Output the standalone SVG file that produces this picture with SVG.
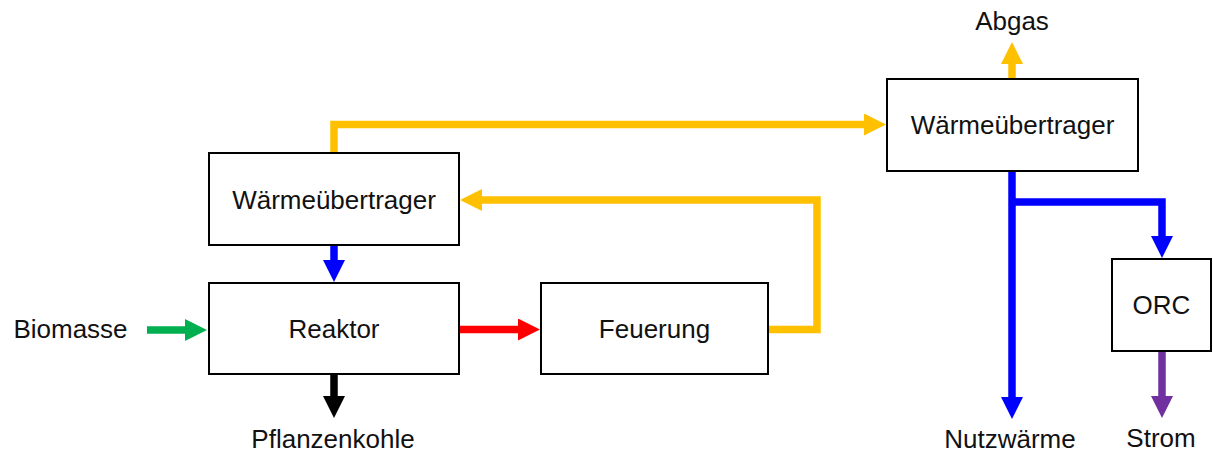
<svg xmlns="http://www.w3.org/2000/svg" width="1213" height="452" viewBox="0 0 1213 452">
  <style>
    .box { fill: #ffffff; stroke: #000000; stroke-width: 2; }
    .lbl { font-family: "Liberation Sans", Arial, sans-serif; font-size: 26px; fill: #111111; text-anchor: middle; }
    .flow { fill: none; stroke-width: 7.5; stroke-linejoin: miter; stroke-linecap: butt; }
    .yellow { stroke: #FFC000; }
    .blue { stroke: #0000FF; }
    .red { stroke: #FF0000; }
    .green { stroke: #00B050; }
    .black { stroke: #000000; }
    .purple { stroke: #7030A0; }
  </style>
  <defs>
    <marker id="head-yellow" viewBox="0 0 22 22" refX="1" refY="11" markerWidth="22" markerHeight="22" markerUnits="userSpaceOnUse" orient="auto">
      <path d="M0,0 L22,11 L0,22 Z" fill="#FFC000"/>
    </marker>
    <marker id="head-blue" viewBox="0 0 22 22" refX="1" refY="11" markerWidth="22" markerHeight="22" markerUnits="userSpaceOnUse" orient="auto">
      <path d="M0,0 L22,11 L0,22 Z" fill="#0000FF"/>
    </marker>
    <marker id="head-red" viewBox="0 0 22 22" refX="1" refY="11" markerWidth="22" markerHeight="22" markerUnits="userSpaceOnUse" orient="auto">
      <path d="M0,0 L22,11 L0,22 Z" fill="#FF0000"/>
    </marker>
    <marker id="head-green" viewBox="0 0 22 22" refX="1" refY="11" markerWidth="22" markerHeight="22" markerUnits="userSpaceOnUse" orient="auto">
      <path d="M0,0 L22,11 L0,22 Z" fill="#00B050"/>
    </marker>
    <marker id="head-black" viewBox="0 0 22 22" refX="1" refY="11" markerWidth="22" markerHeight="22" markerUnits="userSpaceOnUse" orient="auto">
      <path d="M0,0 L22,11 L0,22 Z" fill="#000000"/>
    </marker>
    <marker id="head-purple" viewBox="0 0 22 22" refX="1" refY="11" markerWidth="22" markerHeight="22" markerUnits="userSpaceOnUse" orient="auto">
      <path d="M0,0 L22,11 L0,22 Z" fill="#7030A0"/>
    </marker>
  </defs>

  <!-- connectors -->
  <g id="connectors">
    <!-- hot gas from the left heat exchanger to the right one -->
    <path class="flow yellow" d="M334,153 V124.5 H865" marker-end="url(#head-yellow)"/>
    <!-- flue gas from the furnace back to the left heat exchanger -->
    <path class="flow yellow" d="M768,329.5 H817 V200 H481" marker-end="url(#head-yellow)"/>
    <!-- heat into the reactor -->
    <path class="flow blue" d="M334,245 V261" marker-end="url(#head-blue)"/>
    <!-- pyrolysis gas to the furnace -->
    <path class="flow red" d="M459,329.5 H519" marker-end="url(#head-red)"/>
    <!-- biomass feed -->
    <path class="flow green" d="M147,330 H186" marker-end="url(#head-green)"/>
    <!-- biochar output -->
    <path class="flow black" d="M334,374 V397" marker-end="url(#head-black)"/>
    <!-- exhaust -->
    <path class="flow yellow" d="M1012,79 V63" marker-end="url(#head-yellow)"/>
    <!-- useful heat -->
    <path class="flow blue" d="M1012,171 V398" marker-end="url(#head-blue)"/>
    <!-- heat to the ORC -->
    <path class="flow blue" d="M1012,202 H1162 V237" marker-end="url(#head-blue)"/>
    <!-- electricity -->
    <path class="flow purple" d="M1162,351 V397" marker-end="url(#head-purple)"/>
  </g>

  <!-- nodes -->
  <g id="waermeuebertrager-links">
    <rect class="box" x="209" y="153" width="250" height="92"/>
    <text class="lbl" x="334" y="208.5">Wärmeübertrager</text>
  </g>
  <g id="reaktor">
    <rect class="box" x="209" y="283" width="250" height="91"/>
    <text class="lbl" x="334" y="338">Reaktor</text>
  </g>
  <g id="feuerung">
    <rect class="box" x="541" y="283" width="227" height="91"/>
    <text class="lbl" x="654.5" y="338">Feuerung</text>
  </g>
  <g id="waermeuebertrager-rechts">
    <rect class="box" x="887" y="79" width="251" height="92"/>
    <text class="lbl" x="1012.5" y="134">Wärmeübertrager</text>
  </g>
  <g id="orc">
    <rect class="box" x="1112" y="259" width="99" height="92"/>
    <text class="lbl" x="1161.5" y="314">ORC</text>
  </g>

  <!-- stream labels -->
  <g id="label-biomasse"><text class="lbl" x="70.5" y="338">Biomasse</text></g>
  <g id="label-pflanzenkohle"><text class="lbl" x="333" y="448">Pflanzenkohle</text></g>
  <g id="label-abgas"><text class="lbl" x="1012" y="30">Abgas</text></g>
  <g id="label-nutzwaerme"><text class="lbl" x="1010" y="448">Nutzwärme</text></g>
  <g id="label-strom"><text class="lbl" x="1161" y="447">Strom</text></g>
</svg>
